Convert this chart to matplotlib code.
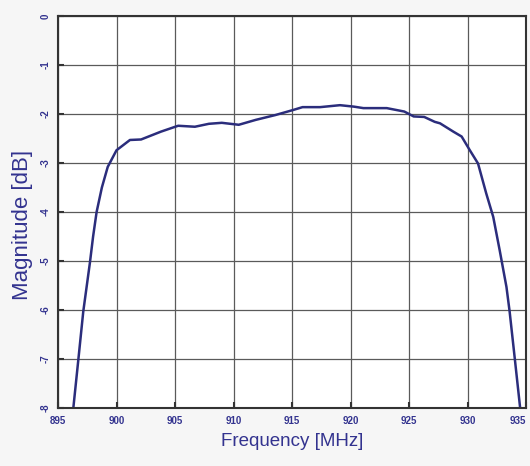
import matplotlib
matplotlib.use("Agg")
import matplotlib.pyplot as plt

freq_mhz = [896.31, 896.74, 897.16, 897.73, 898.0, 898.3, 898.75, 899.25, 900.0, 901.15, 902.1,
            903.8, 905.27, 906.7, 907.9, 909.0, 910.45, 911.9, 913.6, 915.07, 915.9,
            917.4, 919.1, 920.3, 921.1, 923.1, 924.6, 925.4, 926.3, 927.2, 927.65,
            928.79, 929.5, 930.2, 930.9, 931.6, 932.2, 932.75, 933.33, 933.6, 934.05, 934.5]
magnitude_db = [-8.0, -7.01, -6.03, -5.03, -4.5, -4.0, -3.5, -3.08, -2.74, -2.53, -2.52,
                -2.36, -2.24, -2.26, -2.2, -2.18, -2.22, -2.12, -2.02, -1.92, -1.86,
                -1.86, -1.82, -1.85, -1.88, -1.88, -1.95, -2.05, -2.06, -2.16, -2.19,
                -2.36, -2.46, -2.74, -3.01, -3.62, -4.1, -4.78, -5.53, -6.03, -7.01, -8.0]
x_ticks = [895, 900, 905, 910, 915, 920, 925, 930, 935]
y_ticks = [0, -1, -2, -3, -4, -5, -6, -7, -8]

label_color = "#33338f"
fig = plt.figure(figsize=(5.3, 4.66), dpi=100, facecolor="#f6f6f6")
ax = fig.add_axes([58 / 530, 1 - 408 / 466, 468 / 530, 392 / 466])
ax.set_facecolor("white")
ax.plot(freq_mhz, magnitude_db, color="#2b2d7c", lw=1.8)
ax.set_xlim(895, 935)
ax.set_ylim(-8, 0)
ax.set_xticks(x_ticks)
ax.set_yticks(y_ticks)
ax.set_xticklabels([str(t) for t in x_ticks])
ax.set_yticklabels([str(t) for t in y_ticks], rotation=90, va="center")
ax.grid(True, color="#5a5a5a", lw=0.9)
ax.tick_params(direction="in", length=4, width=1.5, colors="#333333",
               labelcolor=label_color, labelsize=7)
ax.tick_params(axis="x", pad=6)
ax.tick_params(axis="y", pad=5)
for lab in ax.get_xticklabels() + ax.get_yticklabels():
    lab.set_fontweight("bold")
    lab.set_family("Liberation Sans")
ax.get_xticklabels()[-1].set_horizontalalignment("right")
for s in ax.spines.values():
    s.set_color("#333333")
    s.set_linewidth(1.5)
ax.set_xlabel("Frequency [MHz]", color=label_color, fontsize=13.5,
              family="Liberation Sans", labelpad=5)
ax.set_ylabel("Magnitude [dB]", color=label_color, fontsize=16,
              family="Liberation Sans", va="center")
ax.yaxis.set_label_coords(-0.0748, 0.467)
fig.savefig("out.png", dpi=100, facecolor=fig.get_facecolor())
